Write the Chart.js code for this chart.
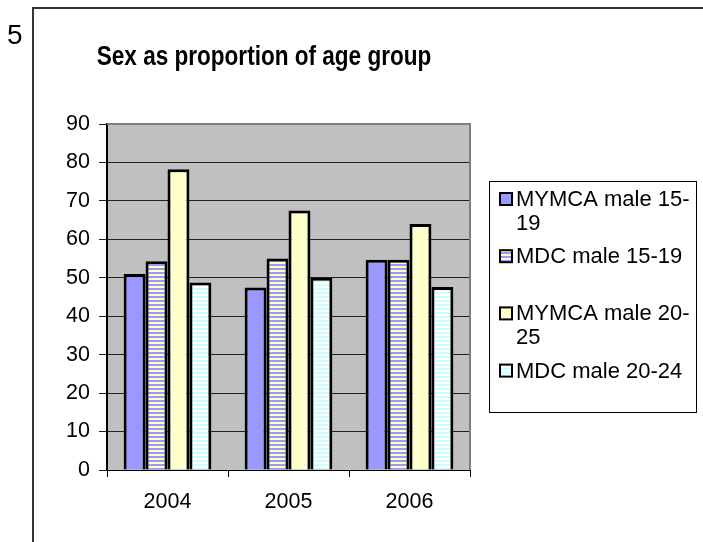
<!DOCTYPE html>
<html>
<head>
<meta charset="utf-8">
<script src="https://cdn.jsdelivr.net/npm/chart.js@4"></script>
<style>
  html, body { margin: 0; padding: 0; background: #fff; }
  #wrap { width: 703px; height: 542px; }
</style>
</head>
<body>
<div id="wrap"><canvas id="myChart" width="703" height="542"></canvas></div>
<script>
const pageNumber = '5';
const chartTitle = 'Sex as proportion of age group';
const years = ['2004', '2005', '2006'];
const seriesNames = ['MYMCA male 15-19', 'MDC male 15-19', 'MYMCA male 20-25', 'MDC male 20-24'];
const mymca1519 = [51, 47.5, 54.7];
const mdc1519 = [54.3, 55, 54.7];
const mymca2025 = [78.2, 67.5, 64];
const mdc2024 = [48.8, 50, 47.6];
const yTicks = [0, 10, 20, 30, 40, 50, 60, 70, 80, 90];

const FONT = '"Liberation Sans", Arial, sans-serif';

// 4px horizontal stripe fill like the old excel patterns
function stripes(c1, c2) {
  const p = document.createElement('canvas');
  p.width = 4; p.height = 4;
  const g = p.getContext('2d');
  g.fillStyle = c1; g.fillRect(0, 0, 4, 2);
  g.fillStyle = c2; g.fillRect(0, 2, 4, 2);
  return g.createPattern(p, 'repeat');
}

const ctx = document.getElementById('myChart').getContext('2d');
const fills = [
  '#9999FF',
  stripes('#9999FF', '#FFFFC0'),
  '#FFFFCC',
  stripes('#CCFFFF', '#FFFFFF')
];
const values = [mymca1519, mdc1519, mymca2025, mdc2024];

const data = {
  labels: years,
  datasets: seriesNames.map((name, i) => ({
    label: name,
    data: values[i],
    backgroundColor: fills[i],
    borderColor: '#000',
    borderWidth: 3,
    categoryPercentage: 0.725,
    barPercentage: 1,
  })),
};

// frame, page number, title, plot background and the boxed legend
const decor = {
  id: 'decor',
  beforeDraw(chart) {
    const c = chart.ctx, a = chart.chartArea;
    c.save();
    c.fillStyle = '#fff';
    c.fillRect(0, 0, chart.width, chart.height);
    c.fillStyle = '#C0C0C0';
    c.fillRect(a.left, a.top, a.right - a.left, a.bottom - a.top);
    c.restore();
  },
  afterDraw(chart) {
    const c = chart.ctx, a = chart.chartArea;
    c.save();
    // plot area top/right edge
    c.strokeStyle = '#808080';
    c.lineWidth = 2;
    c.beginPath();
    c.moveTo(a.left, a.top); c.lineTo(a.right, a.top); c.lineTo(a.right, a.bottom);
    c.stroke();

    // page frame
    c.strokeStyle = '#333';
    c.lineWidth = 2;
    c.beginPath();
    c.moveTo(703, 8); c.lineTo(33, 8); c.lineTo(33, 542);
    c.stroke();

    c.fillStyle = '#000';
    c.font = '28px ' + FONT;
    c.textAlign = 'left'; c.textBaseline = 'middle';
    c.fillText(pageNumber, 7, 36);

    // title is a condensed bold face in the original, squeeze it a bit
    c.save();
    c.translate(264, 57);
    c.scale(0.82, 1);
    c.font = 'bold 27.5px ' + FONT;
    c.textAlign = 'center';
    c.fillText(chartTitle, 0, 0);
    c.restore();

    // legend
    const bx = 489.5, by = 181.5, bw = 207, bh = 231;
    c.strokeStyle = '#000';
    c.lineWidth = 1;
    c.strokeRect(bx, by, bw, bh);
    c.font = '22px ' + FONT;
    c.textAlign = 'left';
    const maxW = bx + bw - 516 - 2;
    chart.data.datasets.forEach((ds, i) => {
      const y = 200 + i * 57.2;
      c.fillStyle = ds.backgroundColor;
      c.fillRect(500, y - 7, 12, 12);
      c.strokeStyle = '#000';
      c.lineWidth = 2;
      c.strokeRect(500, y - 7, 12, 12);
      c.fillStyle = '#000';
      let lines = [ds.label];
      if (c.measureText(ds.label).width > maxW) {
        const k = ds.label.lastIndexOf('-') + 1;
        lines = [ds.label.slice(0, k), ds.label.slice(k)];
      }
      lines.forEach((t, j) => c.fillText(t, 516, y + j * 23.5));
    });
    c.restore();
  }
};

const config = {
  type: 'bar',
  data: data,
  plugins: [decor],
  options: {
    responsive: false,
    animation: false,
    layout: { padding: { left: 0, top: 124, right: 233, bottom: 30 } },
    plugins: {
      legend: { display: false },
      title: { display: false },
      tooltip: { enabled: false },
    },
    scales: {
      x: {
        grid: { drawOnChartArea: false, drawTicks: true, tickLength: 7, color: '#000', offset: true },
        border: { color: '#000', width: 1 },
        ticks: { color: '#000', font: { family: FONT, size: 21.5 }, padding: 12 },
        afterFit(s) { s.height = 42; },
      },
      y: {
        min: 0,
        max: 90,
        afterBuildTicks(s) { s.ticks = yTicks.map(v => ({ value: v })); },
        grid: { color: '#222', lineWidth: 1, tickLength: 8 },
        border: { color: '#000', width: 2 },
        ticks: { color: '#000', font: { family: FONT, size: 21.5 }, padding: 9 },
        afterFit(s) { s.width = 107; },
      },
    },
  },
};

var myChart = new Chart(ctx, config);
</script>
</body>
</html>
